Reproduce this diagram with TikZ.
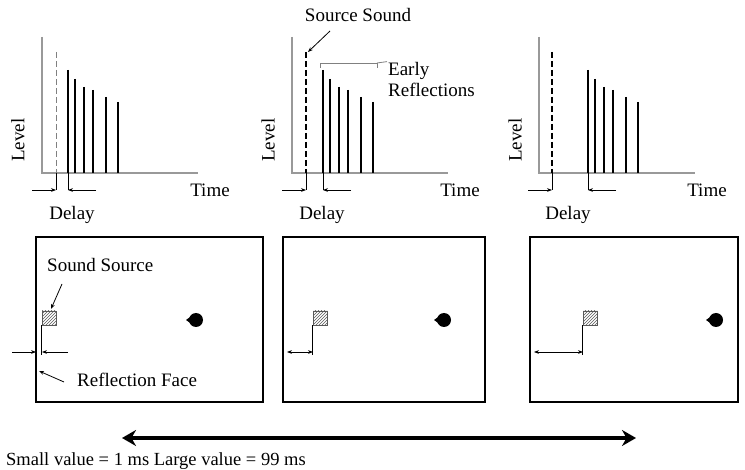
\documentclass[tikz,border=0pt]{standalone}
\usepackage{fontspec}
\setmainfont{Liberation Serif}
\usetikzlibrary{arrows.meta,patterns}
\tikzset{
  axis/.style={draw=gray!80, line width=1.2pt},
  bar/.style={line width=2pt},
  direct/.style={line width=2.2pt, dash pattern=on 6pt off 3pt},
  room/.style={draw, line width=2pt},
  src/.style={draw=gray!70!black, pattern=north east lines, pattern color=gray!70!black, minimum size=14pt, inner sep=0pt},
  lbl/.style={font=\fontsize{19}{21}\selectfont, inner sep=1pt},
  dim/.style={line width=0.8pt, -{Stealth[length=5pt]}},
  ddim/.style={line width=0.8pt, {Stealth[length=5pt]}-{Stealth[length=5pt]}},
}
\begin{document}
\begin{tikzpicture}[x=1pt,y=-1pt]
	\useasboundingbox (0,0) rectangle (745,470);
	% three level/time graphs
	\foreach \ox/\d/\r/\n in {42/56/68/1, 292/306/323/2, 539/552/588/3}{
		\draw[axis] (\ox,37) -- (\ox,173) -- (\ox+156,173);
		\foreach \dx/\top [count=\i] in {0/70, 7/79, 16/87, 25/90, 38/97, 50/102}
			\draw[bar] (\r+\dx,\top) -- (\r+\dx,173);
		\draw[line width=0.8pt] (\d,173) -- (\d,190) (\r,173) -- (\r,190);
		\draw[dim] (\d-24,190) -- (\d,190);
		\draw[dim] (\r+28,190) -- (\r,190);
		\node[lbl, rotate=90] (level\n) at (\ox-24,140) {Level};
		\node[lbl] (time\n) at (\ox+168,190) {Time};
		\node[lbl] (delay\n) at (\d+16,215) {Delay};
	}
	% direct sound
	\draw[gray, line width=1pt, dash pattern=on 6pt off 3pt] (56,52) -- (56,173);
	\draw[direct] (306,52) -- (306,173);
	\draw[direct] (552,52) -- (552,173);
	% labels of graph 2
	\node[lbl] (srcsound) at (358,15) {Source Sound};
	\draw[dim] (330,31) -- (308,52);
	\draw[line width=0.8pt, gray] (320,68) -- (320,63) -- (377,63) -- (377,68);
	\node[lbl, align=left, anchor=west] (early) at (387,80) {Early\\Reflections};
	\draw[line width=0.8pt, gray] (377,63) -- (early.north west);
	% rooms
	\foreach \x/\w/\sx/\bx/\n in {36/227/49/196/1, 283/202/320/444/2, 530/208/590/716/3}{
		\draw[room] (\x,237) rectangle (\x+\w,402);
		\node[src] (sq\n) at (\sx,318) {};
		\fill (\bx,320) circle (7pt);
		\fill (\bx-10,320) -- (\bx-3,315) -- (\bx-3,325) -- cycle;
		\draw[line width=0.8pt] (sq\n.south west) -- ++(0,30);
	}
	\draw[dim] (12,352) -- (36,352);
	\draw[dim] (68,352) -- (42,352);
	\draw[ddim] (287,352) -- (313,352);
	\draw[ddim] (534,352) -- (583,352);
	\node[lbl, anchor=west] (ssrc) at (46,265) {Sound Source};
	\draw[dim] (62,284) -- (51,309);
	\node[lbl, anchor=west] (rface) at (76,380) {Reflection Face};
	\draw[dim] (64,382) -- (39,371);
	% range arrow
	\coordinate (lo) at (122,438);
	\coordinate (hi) at (636,438);
	\draw[line width=4pt, {Stealth[length=14pt,width=16pt]}-{Stealth[length=14pt,width=16pt]}] (lo) -- (hi);
	\node[lbl, anchor=west, font=\fontsize{18.5}{20}\selectfont] (range) at (5,461) {Small value = 1 ms Large value = 99 ms};
\end{tikzpicture}
\end{document}
